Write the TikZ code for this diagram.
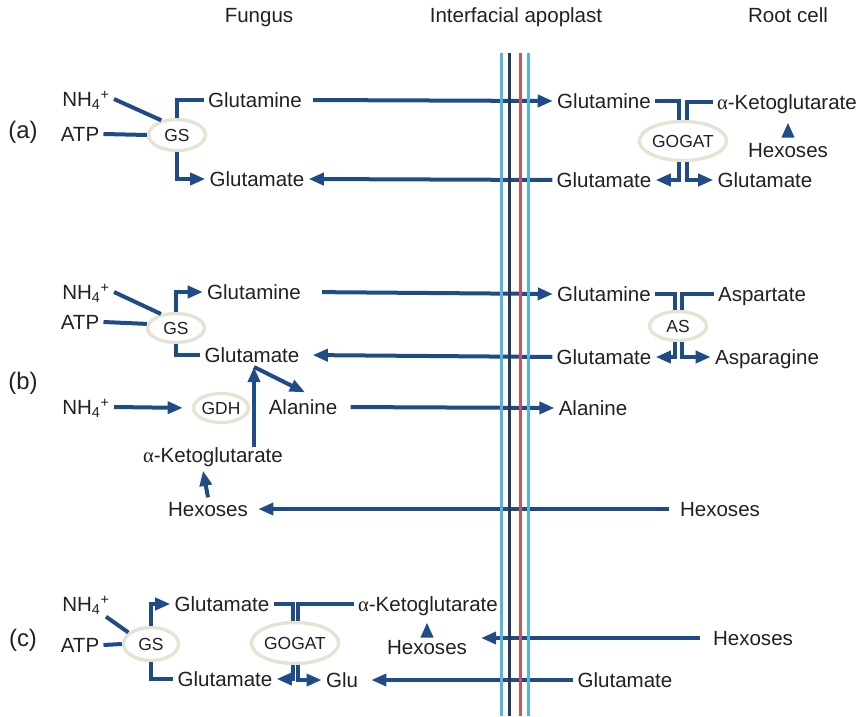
\documentclass[tikz,border=0pt]{standalone}
\usepackage{fontspec}
\setmainfont{Liberation Sans}
\newfontfamily\greekfont{Liberation Serif}
\usetikzlibrary{arrows.meta,calc,shapes.geometric}
\definecolor{ArrowClr}{rgb}{0.12,0.30,0.53}
\definecolor{RingClr}{rgb}{0.90,0.89,0.83}
\definecolor{TextClr}{rgb}{0.14,0.12,0.13}
\definecolor{CyanClr}{rgb}{0.33,0.71,0.84}
\definecolor{NavyClr}{rgb}{0.14,0.23,0.37}
\definecolor{RedClr}{rgb}{0.80,0.33,0.32}
\newcommand{\nhfour}{NH\textsubscript{4}\textsuperscript{+}}
\newcommand{\akg}{{\greekfont α}-Ketoglutarate}

\begin{document}
\begin{tikzpicture}[x=0.025cm,y=-0.025cm,
  lbl/.style={text=TextClr,font=\fontsize{14.6}{17}\selectfont,inner xsep=0.1cm,inner ysep=0pt,text height=10.5pt,text depth=0pt},
  tag/.style={text=TextClr,font=\fontsize{17}{20}\selectfont,inner sep=0pt},
  ring/.style={ellipse,draw=RingClr,line width=0.085cm,fill=white,inner sep=0pt,text=TextClr,font=\fontsize{12.4}{14}\selectfont},
  flow/.style={draw=ArrowClr,line width=0.1cm},
  >={Triangle[length=0.38cm,width=0.3cm]}]
\useasboundingbox (0,0) rectangle (859,716);

\node[lbl] (fungus) at (259,15) {Fungus};
\node[lbl] (apo) at (516,15) {Interfacial apoplast};
\node[lbl] (root) at (788,15) {Root cell};

\node[tag] (pa) at (23,132) {(a)};
\node[tag] (pb) at (23,383) {(b)};
\node[tag] (pc) at (23,640) {(c)};

% (a)
\node[lbl] (nhA) at (86,99) {\nhfour};
\node[lbl] (atpA) at (80,134) {ATP};
\node[ring,minimum width=1.425cm,minimum height=0.775cm] (gsA) at (177,135) {GS};
\node[lbl] (glnA) at (255,100) {Glutamine};
\node[lbl] (gluA) at (257,179) {Glutamate};
\node[lbl] (glnAr) at (604,101) {Glutamine};
\node[lbl] (gluAr) at (604,180) {Glutamate};
\node[ring,minimum width=2.125cm,minimum height=0.975cm] (gogatA) at (683,141) {GOGAT};
\node[lbl] (akgA) at (787,102) {\akg};
\node[lbl] (hexA) at (788,150) {Hexoses};
\node[lbl] (gluAr2) at (765,180) {Glutamate};

\draw[flow] (nhA.east) -- (gsA.137);
\draw[flow] (atpA.east) -- (gsA.west);
\draw[flow] (gsA.north) |- (glnA.west);
\draw[flow,->] (gsA.south) |- (gluA.west);
\draw[flow,->,shorten <=0.175cm] (glnA.east) -- (glnAr.west);
\draw[flow,->] (gluAr.west) -- (gluA.east);
\draw[flow] (glnAr.east) -| ($(gogatA.north)+(-4,0)$);
\draw[flow] ($(gogatA.north)+(4,0)$) |- (akgA.west);
\draw[flow,->] ($(gogatA.south)+(-4,0)$) |- (gluAr.east);
\draw[flow,->] ($(gogatA.south)+(4,0)$) |- (gluAr2.west);
\draw[flow,->,shorten <=0.24cm,shorten >=0.32cm] (hexA.north) -- (hexA.north |- akgA.south);

% (b)
\node[lbl] (nhB) at (86,292) {\nhfour};
\node[lbl] (atpB) at (80,322) {ATP};
\node[ring,minimum width=1.425cm,minimum height=0.725cm] (gsB) at (176,328) {GS};
\node[lbl] (glnB) at (254,292) {Glutamine};
\node[lbl] (gluB) at (252,355) {Glutamate};
\node[lbl] (nhC) at (86,407) {\nhfour};
\node[ring,minimum width=1.375cm,minimum height=0.725cm] (gdh) at (221,408) {GDH};
\node[lbl] (alaB) at (303,407) {Alanine};
\node[lbl] (akgB) at (213,455) {\akg};
\node[lbl] (hexB) at (208,509) {Hexoses};
\node[lbl] (glnBr) at (604,294) {Glutamine};
\node[lbl] (gluBr) at (604,357) {Glutamate};
\node[lbl] (alaBr) at (593,408) {Alanine};
\node[ring,minimum width=1.425cm,minimum height=0.725cm] (asB) at (678,326) {AS};
\node[lbl] (aspt) at (762,294) {Aspartate};
\node[lbl] (asgn) at (767,357) {Asparagine};
\node[lbl] (hexBr) at (720,509) {Hexoses};
\coordinate (jB) at (254,367);

\draw[flow] (nhB.east) -- (gsB.137);
\draw[flow] (atpB.east) -- (gsB.172);
\draw[flow,->] (gsB.north) |- (glnB.west);
\draw[flow] (gsB.south) |- (gluB.west);
\draw[flow,->] (akgB.north -| jB) -- (jB);
\draw[flow,->] (jB) -- ($(alaB.north)+(2,-7)$);
\draw[flow,->,shorten >=0.225cm] (nhC.east) -- (gdh.west);
\draw[flow,->] ($(hexB.north)+(0,-4)$) -- ($(akgB.south)+(-10,8)$);
\draw[flow,->,shorten <=0.425cm] (glnB.east) -- (glnBr.west);
\draw[flow,->,shorten >=0.225cm] (gluBr.west) -- (gluB.east);
\draw[flow,->,shorten <=0.225cm] (alaB.east) -- (alaBr.west);
\draw[flow,->,shorten <=0.175cm,shorten >=0.15cm] (hexBr.west) -- (hexB.east);
\draw[flow] (glnBr.east) -| ($(asB.north)+(-3.5,0)$);
\draw[flow] ($(asB.north)+(3.5,0)$) |- (aspt.west);
\draw[flow,->] ($(asB.south)+(-3.5,0)$) |- (gluBr.east);
\draw[flow,->] ($(asB.south)+(3.5,0)$) |- (asgn.west);

% (c)
\node[lbl] (nhD) at (86,604) {\nhfour};
\node[lbl] (atpD) at (80,645) {ATP};
\node[ring,minimum width=1.375cm,minimum height=0.825cm] (gsD) at (151,644) {GS};
\node[lbl] (gluD1) at (222,604) {Glutamate};
\node[lbl] (gluD2) at (225,679) {Glutamate};
\node[ring,minimum width=2.075cm,minimum height=1.025cm] (gogatC) at (295,643) {GOGAT};
\node[lbl] (akgC) at (428,604) {\akg};
\node[lbl] (glu) at (342,680) {Glu};
\node[lbl] (hexC) at (427,647) {Hexoses};
\node[lbl] (gluCr) at (625,680) {Glutamate};
\node[lbl] (hexCr) at (753,638) {Hexoses};
\coordinate (hexIn) at (481,638);

\draw[flow] ($(nhD.south east)+(-8,5)$) -- (gsD.153);
\draw[flow] (atpD.east) -- (gsD.west);
\draw[flow,->] (gsD.north) |- (gluD1.west);
\draw[flow] (gsD.south) |- (gluD2.west);
\draw[flow] (gluD1.east) -| ($(gogatC.north)+(-2.5,0)$);
\draw[flow] ($(gogatC.north)+(2.5,0)$) |- (akgC.west);
\draw[flow,->] ($(gogatC.south)+(-2.5,0)$) |- (gluD2.east);
\draw[flow,->] ($(gogatC.south)+(2.5,0)$) |- (glu.west);
\draw[flow,->,shorten >=0.225cm] (gluCr.west) -- (glu.east);
\draw[flow,->,shorten <=0.225cm] (hexCr.west) -- (hexIn);
\draw[flow,->,shorten <=0.19cm,shorten >=0.27cm] (hexC.north) -- (hexC.north |- akgC.south);

% membrane
\foreach \xx/\cc in {501.7/CyanClr,509.3/NavyClr,520.7/RedClr,528.3/CyanClr}
  \draw[color=\cc,line width=0.075cm] (\xx,53) -- (\xx,716);
\end{tikzpicture}
\end{document}
